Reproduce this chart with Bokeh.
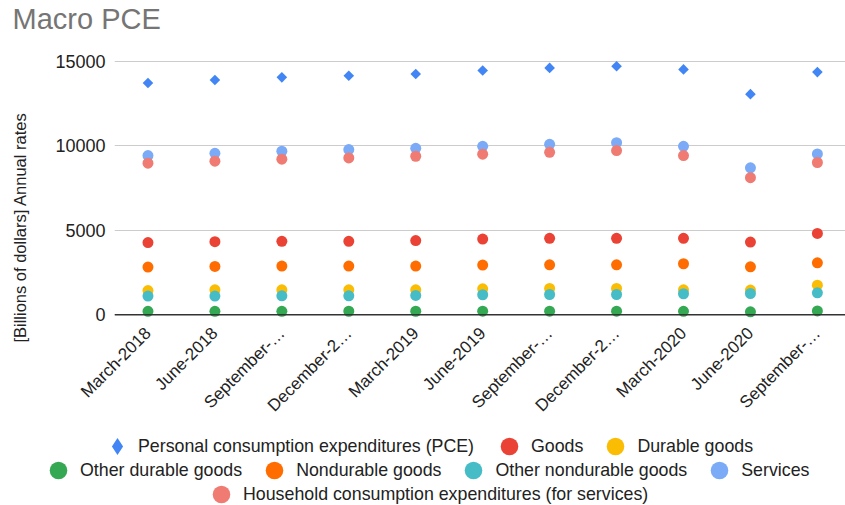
from math import pi

from bokeh.embed import file_html
from bokeh.layouts import column, row
from bokeh.models import FixedTicker, Label, Legend, LegendItem, Span
from bokeh.plotting import figure
from bokeh.resources import INLINE

# Quarterly PCE components, billions of dollars, seasonally adjusted annual rates
quarters = ["March-2018", "June-2018", "September-2018", "December-2018",
            "March-2019", "June-2019", "September-2019", "December-2019",
            "March-2020", "June-2020", "September-2020"]
tick_labels = ["March-2018", "June-2018", "September-\u2026", "December-2\u2026",
               "March-2019", "June-2019", "September-\u2026", "December-2\u2026",
               "March-2020", "June-2020", "September-\u2026"]

pce = [13730, 13900, 14060, 14155, 14255, 14470, 14620, 14720, 14530, 13065, 14370]
goods = [4280, 4335, 4355, 4355, 4395, 4485, 4530, 4530, 4530, 4310, 4820]
durable_goods = [1440, 1480, 1480, 1480, 1480, 1540, 1560, 1560, 1480, 1465, 1755]
other_durable = [210, 210, 212, 213, 213, 216, 218, 220, 212, 180, 235]
nondurable_goods = [2830, 2870, 2890, 2890, 2890, 2945, 2965, 2965, 3025, 2845, 3080]
other_nondurable = [1115, 1115, 1130, 1130, 1150, 1190, 1205, 1205, 1250, 1265, 1305]
services = [9430, 9565, 9685, 9785, 9860, 9975, 10095, 10195, 9975, 8705, 9525]
household = [8980, 9100, 9215, 9290, 9390, 9510, 9625, 9725, 9430, 8120, 9020]

y_ticks = [0, 5000, 10000, 15000]

series = [
    ("Personal consumption expenditures (PCE)", pce, "#4285F4"),
    ("Goods", goods, "#EA4335"),
    ("Durable goods", durable_goods, "#FBBC04"),
    ("Other durable goods", other_durable, "#34A853"),
    ("Nondurable goods", nondurable_goods, "#FF6D01"),
    ("Other nondurable goods", other_nondurable, "#46BDC6"),
    ("Services", services, "#7BAAF7"),
    ("Household consumption expenditures (for services)", household, "#F07B72"),
]

FONT = "Liberation Sans"
TEXT = "#222222"

x = list(range(len(quarters)))


def blank(width, height):
    """A figure with no axes, grid or border, used as a text/legend strip."""
    f = figure(width=width, height=height, output_backend="svg", toolbar_location=None,
               x_axis_location=None, y_axis_location=None, frame_align=False,
               min_border_left=0, min_border_right=0, min_border_top=0, min_border_bottom=0)
    f.outline_line_color = None
    f.xgrid.grid_line_color = None
    f.ygrid.grid_line_color = None
    return f


# ---- title strip ---------------------------------------------------------
top = blank(845, 40)
top.add_layout(Label(x=12, y=21.5, x_units="screen", y_units="screen",
                     text="Macro PCE", text_align="left", text_baseline="alphabetic",
                     text_font=FONT, text_font_size="29px", text_color="#757575"))

# ---- chart -------------------------------------------------------------
p = figure(width=807, height=385, x_range=(-0.5, 10.42), y_range=(-275, 15117),
           output_backend="svg", toolbar_location=None, frame_align=False,
           min_border_left=76, min_border_right=0,
           min_border_top=19, min_border_bottom=103)
p.outline_line_color = None
p.background_fill_color = "white"

# y axis
p.yaxis.ticker = FixedTicker(ticks=y_ticks)
p.yaxis.axis_line_color = None
p.yaxis.major_tick_line_color = None
p.yaxis.minor_tick_line_color = None
p.yaxis.major_tick_out = 0
p.yaxis.major_tick_in = 0
p.yaxis.major_label_standoff = 9
p.yaxis.major_label_text_font = FONT
p.yaxis.major_label_text_font_size = "18px"
p.yaxis.major_label_text_color = TEXT
p.ygrid.ticker = FixedTicker(ticks=y_ticks)
p.ygrid.grid_line_color = "#cccccc"
p.ygrid.grid_line_width = 1
p.xgrid.grid_line_color = None

# x axis
p.xaxis.ticker = FixedTicker(ticks=x)
p.xaxis.major_label_overrides = {i: lbl for i, lbl in zip(x, tick_labels)}
p.xaxis.major_label_orientation = pi / 4
p.xaxis.axis_line_color = None
p.xaxis.major_tick_line_color = None
p.xaxis.minor_tick_line_color = None
p.xaxis.major_tick_out = 0
p.xaxis.major_tick_in = 0
p.xaxis.major_label_standoff = 11
p.xaxis.major_label_text_font = FONT
p.xaxis.major_label_text_font_size = "17px"
p.xaxis.major_label_text_color = TEXT

# series, drawn in legend order
for i, (name, vals, color) in enumerate(series):
    if i == 0:
        p.scatter(x, vals, marker="square", size=7.5, angle=pi / 4,
                  fill_color=color, line_color=None)
    else:
        p.scatter(x, vals, size=11, fill_color=color, line_color=None)

# zero baseline
p.add_layout(Span(location=0, dimension="width", line_color="#333333", line_width=1.5))

# ---- y axis title strip --------------------------------------------------
yl = blank(38, 385)
yl.add_layout(Label(x=19, y=198, x_units="screen", y_units="screen",
                    text="[Billions of dollars] Annual rates", angle=pi / 2,
                    text_align="center", text_baseline="middle",
                    text_font=FONT, text_font_size="16.5px", text_color=TEXT))

# ---- legend strip ------------------------------------------------------
lf = blank(845, 80)
keys = []
for i, (name, vals, color) in enumerate(series):
    r = lf.scatter(x, vals, marker="diamond" if i == 0 else "circle",
                   fill_color=color, line_color=None, visible=False)
    keys.append((r, name))

# (items, location, glyph box, label standoff)
rows = [
    (keys[0:1], (96, 38), 42, 0),
    (keys[1:3], (487, 37), 44, -1),
    (keys[3:7], (36, 13), 44, -1),
    (keys[7:8], (199, -11), 44, -1),
]
for items, loc, box, standoff in rows:
    lg = Legend(items=[LegendItem(label=lbl, renderers=[r]) for r, lbl in items],
                orientation="horizontal", location=loc,
                glyph_width=box, glyph_height=box, label_standoff=standoff, spacing=10,
                padding=0, margin=0, border_line_color=None,
                background_fill_alpha=0, inactive_fill_alpha=0,
                label_text_font=FONT, label_text_font_size="17.8px",
                label_text_color=TEXT)
    lf.add_layout(lg)

page = column(top, row(yl, p, spacing=0), lf, spacing=0)
open("out.html", "w").write(file_html(page, INLINE))
